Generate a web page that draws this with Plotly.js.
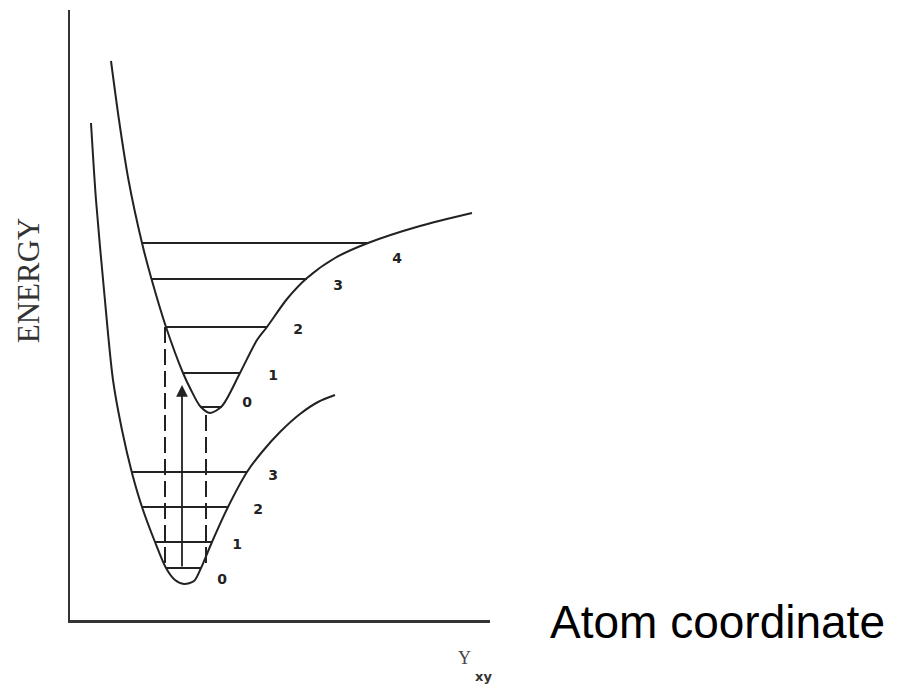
<!DOCTYPE html>
<html>
<head>
<meta charset="utf-8">
<script src="https://cdn.plot.ly/plotly-3.0.1.min.js"></script>
<style>html,body{margin:0;padding:0;background:#fff;}#chart{width:901px;height:687px;}</style>
</head>
<body>
<div id="chart"></div>
<script>
// Excited-state potential curve (atom coordinate, energy) in arbitrary units
var upperX = [0.41, 0.49, 0.585, 0.72, 0.815, 0.96, 1.13, 1.21, 1.30, 1.40, 1.52, 1.70, 1.87, 1.97, 2.17, 2.37, 2.65, 2.98, 3.50, 4.02];
var upperY = [5.59, 5.00, 4.40, 3.77, 3.41, 2.93, 2.47, 2.30, 2.14, 2.07, 2.14, 2.47, 2.80, 2.93, 3.21, 3.42, 3.62, 3.77, 3.94, 4.07];
// Ground-state potential curve
var lowerX = [0.21, 0.26, 0.34, 0.43, 0.52, 0.62, 0.72, 0.85, 0.96, 1.05, 1.14, 1.24, 1.31, 1.42, 1.58, 1.77, 1.92, 2.10, 2.30, 2.48, 2.65];
var lowerY = [4.97, 4.20, 3.30, 2.40, 1.90, 1.47, 1.13, 0.78, 0.52, 0.40, 0.36, 0.39, 0.52, 0.78, 1.13, 1.48, 1.68, 1.88, 2.06, 2.18, 2.25];
// Vibrational levels
var upperLevelNames = ["0", "1", "2", "3", "4"];
var upperLevelE = [2.13, 2.47, 2.93, 3.41, 3.77];
var upperLevelLeft = [1.30, 1.13, 0.96, 0.815, 0.72];
var upperLevelRight = [1.52, 1.70, 1.97, 2.37, 2.98];
var upperLabelX = [1.77, 2.03, 2.28, 2.68, 3.27];
var upperLabelY = [2.17, 2.44, 2.90, 3.34, 3.61];
var lowerLevelNames = ["0", "1", "2", "3"];
var lowerLevelE = [0.52, 0.78, 1.13, 1.48];
var lowerLevelLeft = [0.96, 0.85, 0.72, 0.62];
var lowerLevelRight = [1.31, 1.42, 1.58, 1.77];
var lowerLabelX = [1.52, 1.67, 1.88, 2.03];
var lowerLabelY = [0.40, 0.75, 1.10, 1.44];
// Franck-Condon vertical transitions
var dashX = [0.95, 1.36];
var dashTop = [2.93, 2.05];
var dashBottom = [0.52, 0.52];
var arrowX = 1.12, arrowFrom = 0.52, arrowTo = 2.35;

var ink = '#222';
function levelTrace(left, right, e) {
  var xs = [], ys = [];
  for (var i = 0; i < e.length; i++) {
    xs.push(left[i], right[i], null);
    ys.push(e[i], e[i], null);
  }
  return {x: xs, y: ys, mode: 'lines', line: {color: ink, width: 2}, hoverinfo: 'skip'};
}
var dx = [], dy = [];
for (var i = 0; i < dashX.length; i++) {
  dx.push(dashX[i], dashX[i], null);
  dy.push(dashTop[i], dashBottom[i], null);
}
var labelFont = {family: 'DejaVu Sans', size: 14, color: ink, weight: 'bold'};
var traces = [
  {x: upperX, y: upperY, mode: 'lines', line: {color: ink, width: 2, shape: 'spline', smoothing: 0.8}, hoverinfo: 'skip'},
  {x: lowerX, y: lowerY, mode: 'lines', line: {color: ink, width: 2, shape: 'spline', smoothing: 0.8}, hoverinfo: 'skip'},
  levelTrace(upperLevelLeft, upperLevelRight, upperLevelE),
  levelTrace(lowerLevelLeft, lowerLevelRight, lowerLevelE),
  {x: dx, y: dy, mode: 'lines', line: {color: ink, width: 2, dash: '16px,6px'}, hoverinfo: 'skip'},
  {x: upperLabelX, y: upperLabelY, mode: 'text', text: upperLevelNames, textfont: labelFont, hoverinfo: 'skip'},
  {x: lowerLabelX, y: lowerLabelY, mode: 'text', text: lowerLevelNames, textfont: labelFont, hoverinfo: 'skip'}
];
var layout = {
  width: 901, height: 687,
  margin: {l: 70, r: 411, t: 10, b: 67},
  paper_bgcolor: '#fff', plot_bgcolor: '#fff',
  showlegend: false,
  xaxis: {range: [0, 4.2], showline: true, linecolor: '#333', linewidth: 3, showgrid: false, zeroline: false, showticklabels: false, ticks: ''},
  yaxis: {range: [0, 6.1], showline: true, linecolor: '#333', linewidth: 2, showgrid: false, zeroline: false, showticklabels: false, ticks: ''},
  annotations: [
    {x: arrowX, y: arrowTo, ax: arrowX, ay: arrowFrom, xref: 'x', yref: 'y', axref: 'x', ayref: 'y', text: '', showarrow: true, arrowhead: 2, arrowsize: 1.3, arrowwidth: 1.8, arrowcolor: ink},
    {x: -0.1, y: 0.557, xref: 'paper', yref: 'paper', xanchor: 'center', yanchor: 'middle', text: 'ENERGY', textangle: -90, showarrow: false, font: {family: 'Liberation Serif', size: 31, color: '#333'}},
    {x: 1.138, y: -0.003, xref: 'paper', yref: 'paper', xanchor: 'left', yanchor: 'middle', text: 'Atom coordinate', showarrow: false, font: {family: 'Liberation Sans', size: 46, color: '#000'}},
    {x: 0.94, y: -0.063, xref: 'paper', yref: 'paper', xanchor: 'center', yanchor: 'middle', text: 'Y', showarrow: false, font: {family: 'Liberation Serif', size: 18, color: '#444'}},
    {x: 0.985, y: -0.092, xref: 'paper', yref: 'paper', xanchor: 'center', yanchor: 'middle', text: 'xy', showarrow: false, font: {family: 'DejaVu Sans', size: 13, color: '#333', weight: 'bold'}}
  ]
};
Plotly.newPlot('chart', traces, layout, {displayModeBar: false, staticPlot: true});
</script>
</body>
</html>
